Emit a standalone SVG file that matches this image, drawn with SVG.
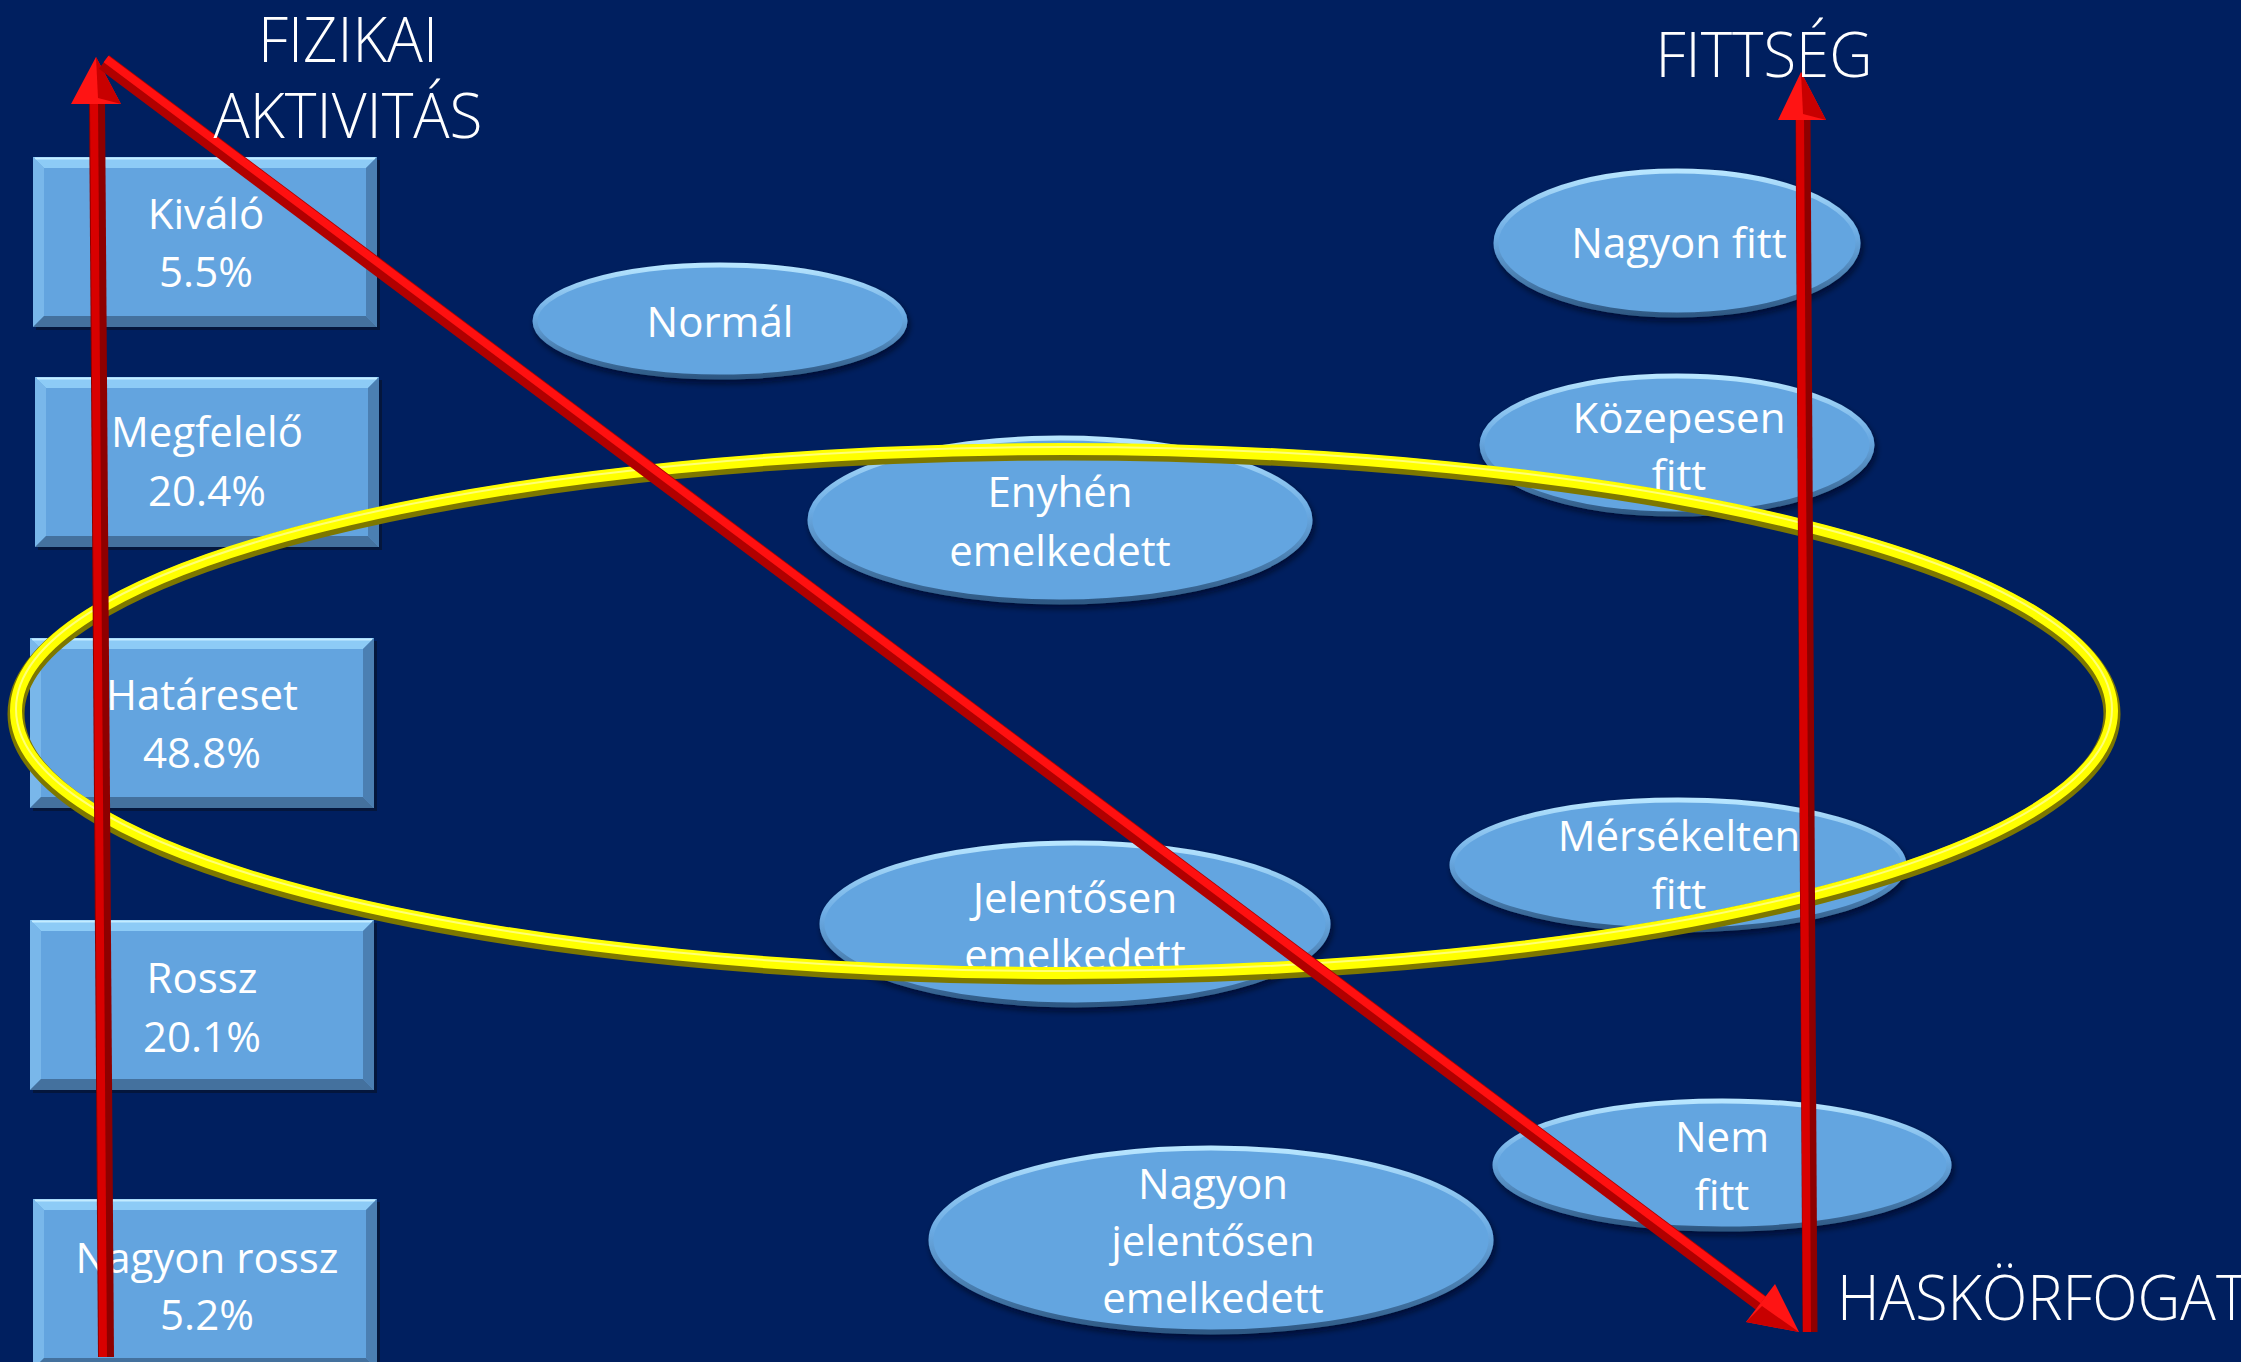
<svg xmlns="http://www.w3.org/2000/svg" width="2241" height="1362" viewBox="0 0 2241 1362">
<style>
.lbl{font-family:"Open Sans","Liberation Sans",sans-serif;font-size:42px;fill:#ffffff;text-anchor:middle}
.ttl{font-family:"Open Sans","Liberation Sans",sans-serif;font-weight:300;font-size:62px;fill:#ffffff}
.ell{fill:#63a5e0;stroke:url(#rim);stroke-width:5;filter:url(#sh)}
</style>
<defs>
<linearGradient id="rim" x1="0" y1="0" x2="0" y2="1">
<stop offset="0" stop-color="#b8e6ff"/>
<stop offset="0.45" stop-color="#6aaae3"/>
<stop offset="1" stop-color="#2e5883"/>
</linearGradient>
<filter id="sh" x="-10%" y="-10%" width="120%" height="130%">
<feDropShadow dx="2" dy="4" stdDeviation="3" flood-color="#000010" flood-opacity="0.6"/>
</filter>
<g id="box">
<rect x="3" y="3" width="344" height="170" fill="#06122e" opacity="0.7"/>
<rect x="0" y="0" width="344" height="170" fill="#63a4df"/>
<polygon points="0,0 344,0 333,11 11,11" fill="#8dcbf6"/>
<line x1="2" y1="1.5" x2="342" y2="1.5" stroke="#c4ecff" stroke-width="2"/>
<polygon points="0,0 11,11 11,159 0,170" fill="#79b7ea"/>
<polygon points="344,0 344,170 333,159 333,11" fill="#4b7fb2"/>
<polygon points="0,170 11,159 333,159 344,170" fill="#44719e"/>
</g>
</defs>
<rect width="2241" height="1362" fill="#001f5f"/>

<g id="box-kivalo">
<use href="#box" x="33" y="157"/>
<text class="lbl" x="206" y="229">Kiváló</text>
<text class="lbl" x="206" y="287">5.5%</text>
</g>
<g id="box-megfelelo">
<use href="#box" x="35" y="377"/>
<text class="lbl" x="207" y="447">Megfelelő</text>
<text class="lbl" x="207" y="506">20.4%</text>
</g>
<g id="box-hatareset">
<use href="#box" x="30" y="638"/>
<text class="lbl" x="202" y="710">Határeset</text>
<text class="lbl" x="202" y="768">48.8%</text>
</g>
<g id="box-rossz">
<use href="#box" x="30" y="920"/>
<text class="lbl" x="202" y="993">Rossz</text>
<text class="lbl" x="202" y="1052">20.1%</text>
</g>
<g id="box-nagyon-rossz">
<use href="#box" x="33" y="1199"/>
<text class="lbl" x="207" y="1273">Nagyon rossz</text>
<text class="lbl" x="207" y="1330">5.2%</text>
</g>

<g id="ell-normal">
<ellipse class="ell" cx="720" cy="321" rx="185" ry="56"/>
<text class="lbl" x="720" y="337">Normál</text>
</g>
<g id="ell-enyhen">
<ellipse class="ell" cx="1060" cy="520" rx="250" ry="82"/>
<text class="lbl" x="1060" y="507">Enyhén</text>
<text class="lbl" x="1060" y="566">emelkedett</text>
</g>
<g id="ell-jelentosen">
<ellipse class="ell" cx="1075" cy="924" rx="253" ry="81"/>
<text class="lbl" x="1075" y="913">Jelentősen</text>
<text class="lbl" x="1075" y="970">emelkedett</text>
</g>
<g id="ell-nagyon-jelentosen">
<ellipse class="ell" cx="1211" cy="1240" rx="280" ry="92"/>
<text class="lbl" x="1213" y="1199">Nagyon</text>
<text class="lbl" x="1213" y="1256">jelentősen</text>
<text class="lbl" x="1213" y="1313">emelkedett</text>
</g>
<g id="ell-nagyon-fitt">
<ellipse class="ell" cx="1677" cy="243" rx="181" ry="72"/>
<text class="lbl" x="1679" y="258">Nagyon fitt</text>
</g>
<g id="ell-kozepesen">
<ellipse class="ell" cx="1677" cy="445" rx="195" ry="69"/>
<text class="lbl" x="1679" y="433">Közepesen</text>
<text class="lbl" x="1679" y="490">fitt</text>
</g>
<g id="ell-merseklten">
<ellipse class="ell" cx="1678" cy="865" rx="226" ry="65"/>
<text class="lbl" x="1679" y="851">Mérsékelten</text>
<text class="lbl" x="1679" y="909">fitt</text>
</g>
<g id="ell-nem-fitt">
<ellipse class="ell" cx="1722" cy="1165" rx="227" ry="64"/>
<text class="lbl" x="1722" y="1152">Nem</text>
<text class="lbl" x="1722" y="1210">fitt</text>
</g>

<g id="highlight">
<ellipse cx="1064" cy="714" rx="1048" ry="262" fill="none" stroke="#7d7700" stroke-width="17"/>
<ellipse cx="1064" cy="711" rx="1048" ry="262" fill="none" stroke="#ffff00" stroke-width="12"/>
<ellipse cx="1064" cy="709" rx="1048" ry="262" fill="none" stroke="#ffffa8" stroke-width="2" opacity="0.7"/>
</g>

<g id="connectors">
<g id="arrow-left">
<line x1="106" y1="1357" x2="97" y2="100" stroke="#8e0000" stroke-width="16"/>
<line x1="103" y1="1357" x2="94" y2="100" stroke="#d80000" stroke-width="8"/>
<polygon points="96,57 71,104 121,104" fill="#ff1414"/>
<polygon points="96,57 121,104 98,98" fill="#c80000"/>
</g>
<g id="arrow-diag">
<line x1="104" y1="62" x2="1761" y2="1303" stroke="#b00000" stroke-width="17"/>
<line x1="106" y1="59" x2="1763" y2="1300" stroke="#ff1010" stroke-width="8"/>
<polygon points="1799,1332 1775,1284 1746,1322" fill="#ff1414"/>
<polygon points="1799,1332 1746,1322 1762,1306" fill="#c80000"/>
</g>
<g id="arrow-right">
<line x1="1810" y1="1332" x2="1803" y2="116" stroke="#8e0000" stroke-width="15"/>
<line x1="1807" y1="1332" x2="1800" y2="116" stroke="#d80000" stroke-width="8"/>
<polygon points="1801,72 1778,120 1826,120" fill="#ff1414"/>
<polygon points="1801,72 1826,120 1803,114" fill="#c80000"/>
</g>
</g>

<g id="titles">
<text class="ttl" x="348" y="62" text-anchor="middle" textLength="180" lengthAdjust="spacingAndGlyphs">FIZIKAI</text>
<text class="ttl" x="348" y="138" text-anchor="middle" textLength="269" lengthAdjust="spacingAndGlyphs">AKTIVITÁS</text>
<text class="ttl" x="1764" y="77" text-anchor="middle" textLength="217" lengthAdjust="spacingAndGlyphs">FITTSÉG</text>
<text class="ttl" x="1837" y="1320" textLength="410" lengthAdjust="spacingAndGlyphs">HASKÖRFOGAT</text>
</g>
</svg>
